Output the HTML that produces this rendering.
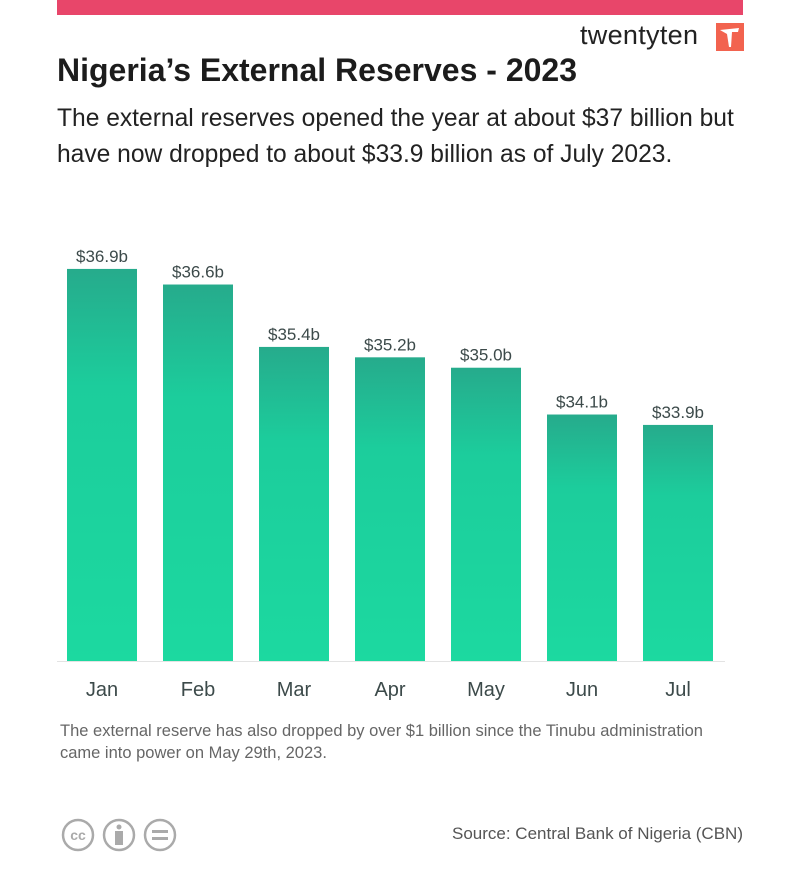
<!DOCTYPE html>
<html><head><meta charset="utf-8">
<style>
body{margin:0;width:800px;height:889px;background:#fff;font-family:"Liberation Sans",sans-serif;position:relative;overflow:hidden}
.abs{position:absolute}
</style></head>
<body>
<div class="abs" style="left:57px;top:0;width:686px;height:15px;background:#e8466a"></div>
<div class="abs" style="left:580px;top:20px;font-size:27px;color:#222;letter-spacing:0.3px">twentyten</div>
<svg class="abs" style="left:716px;top:23px" width="28" height="28"><rect width="28" height="28" fill="#f2634f"/><path d="M4 7 L23 5 L22 9 L16 9 L15 24 L13 24 L11 11 Z" fill="#fff"/></svg>
<div class="abs" style="left:57px;top:52px;font-size:32px;font-weight:bold;color:#1c1c1c">Nigeria’s External Reserves - 2023</div>
<div class="abs" style="left:57px;top:101px;font-size:24.6px;line-height:36px;color:#222;width:720px">The external reserves opened the year at about $37 billion but have now dropped to about $33.9 billion as of July 2023.</div>
<svg class="abs" style="left:0;top:0" width="800" height="889">
<defs><linearGradient id="g" x1="0" y1="0" x2="0" y2="1"><stop offset="0" stop-color="#26ab8c"/><stop offset="0.3" stop-color="#1ccd9c"/><stop offset="1" stop-color="#1cd9a0"/></linearGradient></defs>
<g id="bars"></g>
<line x1="57" x2="725" y1="661.5" y2="661.5" stroke="#e3e3e3" stroke-width="1"/>
</svg>
<div class="abs" style="left:60px;top:720px;font-size:16.5px;line-height:22px;color:#666;width:660px">The external reserve has also dropped by over $1 billion since the Tinubu administration came into power on May 29th, 2023.</div>
<svg class="abs" style="left:60px;top:817px" width="120" height="36">
<g fill="none" stroke="#aaa" stroke-width="2.5"><circle cx="18" cy="18" r="15"/><circle cx="59" cy="18" r="15"/><circle cx="100" cy="18" r="15"/></g>
<text x="18" y="23" text-anchor="middle" font-size="14" font-weight="bold" fill="#aaa" font-family="Liberation Sans">cc</text>
<circle cx="59" cy="10" r="2.5" fill="#aaa"/><rect x="55" y="14" width="8" height="14" fill="#aaa"/>
<rect x="92" y="13" width="16" height="3" fill="#aaa"/><rect x="92" y="20" width="16" height="3" fill="#aaa"/>
</svg>
<div class="abs" style="right:57px;top:824px;font-size:17px;color:#555">Source: Central Bank of Nigeria (CBN)</div>
<script>
const categories=["Jan","Feb","Mar","Apr","May","Jun","Jul"];
const values=[36.9,36.6,35.4,35.2,35.0,34.1,33.9];
const labels=["$36.9b","$36.6b","$35.4b","$35.2b","$35.0b","$34.1b","$33.9b"];
const base=661, yMin=29.36, scale=52;
function y(v){return base-(v-yMin)*scale;}
function x(i){return 67+i*96;}
const g=document.getElementById('bars');
const ns="http://www.w3.org/2000/svg";
categories.forEach((c,i)=>{
 const r=document.createElementNS(ns,'rect');
 r.setAttribute('x',x(i));r.setAttribute('y',y(values[i]));r.setAttribute('width',70);r.setAttribute('height',base-y(values[i]));r.setAttribute('fill','url(#g)');
 
 
 g.appendChild(r);
 const t=document.createElementNS(ns,'text');
 t.setAttribute('x',x(i)+35);t.setAttribute('y',y(values[i])-7);t.setAttribute('text-anchor','middle');t.setAttribute('font-size','17');t.setAttribute('fill','#3c4a4a');t.setAttribute('font-family','Liberation Sans');
 t.textContent=labels[i];
 
 
 g.appendChild(t);
 const l=document.createElementNS(ns,'text');
 l.setAttribute('x',x(i)+35);l.setAttribute('y',696);l.setAttribute('text-anchor','middle');l.setAttribute('font-size','20');l.setAttribute('fill','#3c4a4a');l.setAttribute('font-family','Liberation Sans');
 l.textContent=c;
 
 
 g.appendChild(l);
});
</script>
</body></html>
